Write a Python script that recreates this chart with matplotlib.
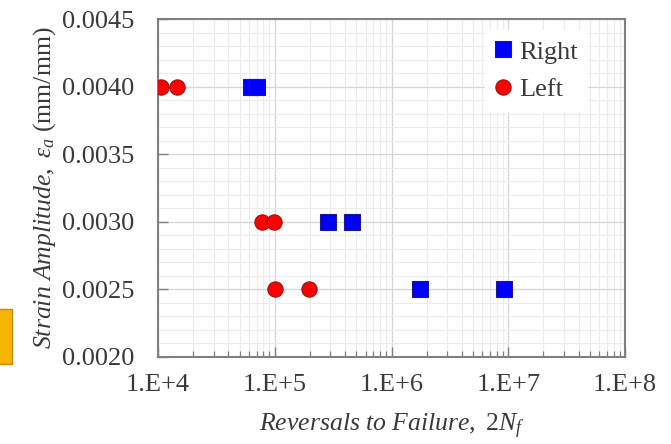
import matplotlib
matplotlib.use("Agg")
import matplotlib.pyplot as plt
import matplotlib.patches as mpatches
from matplotlib.ticker import LogLocator, FixedLocator, FuncFormatter, MultipleLocator
import numpy as np

# Fatigue test results: reversals to failure vs. strain amplitude
right_cycles = [6.3e4, 7.0e4, 2.85e5, 4.6e5, 1.75e6, 9.2e6]
right_strain = [0.0040, 0.0040, 0.0030, 0.0030, 0.0025, 0.0025]
left_cycles = [1.06e4, 1.45e4, 7.8e4, 9.9e4, 1.0e5, 1.96e5]
left_strain = [0.0040, 0.0040, 0.0030, 0.0030, 0.0025, 0.0025]

x_ticks = [1e4, 1e5, 1e6, 1e7, 1e8]
x_tick_labels = ["1.E+4", "1.E+5", "1.E+6", "1.E+7", "1.E+8"]
y_ticks = [0.0020, 0.0025, 0.0030, 0.0035, 0.0040, 0.0045]

plt.rcParams["font.family"] = ["Liberation Serif", "DejaVu Serif"]
plt.rcParams["mathtext.fontset"] = "custom"
plt.rcParams["mathtext.rm"] = "Liberation Serif"
plt.rcParams["mathtext.it"] = "Liberation Serif:italic"
plt.rcParams["mathtext.bf"] = "Liberation Serif:bold"

text_color = "#3a3a3a"
spine_color = "#808080"

fig = plt.figure(figsize=(6.71, 4.44), dpi=100)
ax = fig.add_axes([0.2355, 0.196, 0.696, 0.761])

ax.set_xscale("log")
ax.set_xlim(1e4, 1e8)
ax.set_ylim(0.0020, 0.0045)

ax.plot(right_cycles, right_strain, linestyle="none", marker="s", markersize=11,
        markerfacecolor="#0000ff", markeredgecolor="#1a1a80", markeredgewidth=0.8,
        label="Right", zorder=3)
ax.plot(left_cycles, left_strain, linestyle="none", marker="o", markersize=11,
        markerfacecolor="#ff0000", markeredgecolor="#a01010", markeredgewidth=0.8,
        label="Left", zorder=3)

ax.xaxis.set_major_locator(FixedLocator(x_ticks))
ax.xaxis.set_major_formatter(FuncFormatter(lambda v, p: x_tick_labels[x_ticks.index(v)] if v in x_ticks else ""))
ax.xaxis.set_minor_locator(LogLocator(base=10, subs=np.arange(2, 10)))
ax.xaxis.set_minor_formatter(FuncFormatter(lambda v, p: ""))
ax.yaxis.set_major_locator(FixedLocator(y_ticks))
ax.yaxis.set_major_formatter(FuncFormatter(lambda v, p: f"{v:.4f}"))
ax.yaxis.set_minor_locator(MultipleLocator(0.0001))

ax.grid(which="major", color="#d6d6d6", linewidth=0.9)
ax.grid(which="minor", color="#ececec", linewidth=0.8)
ax.set_axisbelow(True)

ax.tick_params(axis="both", which="major", direction="in", length=7, width=1.0,
               color=spine_color, labelsize=19, labelcolor=text_color)
ax.tick_params(axis="x", which="major", pad=12, top=False)
ax.tick_params(axis="y", which="major", pad=17, right=False)
ax.tick_params(axis="x", which="minor", direction="in", length=4, width=0.9,
               color=spine_color, top=False)
ax.tick_params(axis="y", which="minor", length=0, right=False)

for s in ax.spines.values():
    s.set_color(spine_color)
    s.set_linewidth(1.5)

ax.set_xlabel(r"$Reversals\ to\ Failure,\ \mathit{2}N_f$", fontsize=18.5,
              color=text_color, labelpad=12)
ax.set_ylabel(r"$Strain\ Amplitude,\ \varepsilon_a\ \mathrm{(mm/mm)}$", fontsize=18.5,
              color=text_color, labelpad=3)

leg = ax.legend(loc="upper right", bbox_to_anchor=(0.95, 1.008), fontsize=19,
                frameon=True, fancybox=False, framealpha=1.0, edgecolor="none",
                facecolor="white", handlelength=0.6, handletextpad=0.3,
                borderpad=0.4, labelspacing=0.54)
for t in leg.get_texts():
    t.set_color(text_color)

# small orange tab at the left edge
tab = mpatches.FancyBboxPatch((-0.01, 0.18), 0.028, 0.125, boxstyle="square,pad=0",
                              transform=fig.transFigure, facecolor="#f7b500",
                              edgecolor="#c58a00", linewidth=1.0, clip_on=False)
fig.patches.append(tab)

fig.savefig("out.png", dpi=100)
